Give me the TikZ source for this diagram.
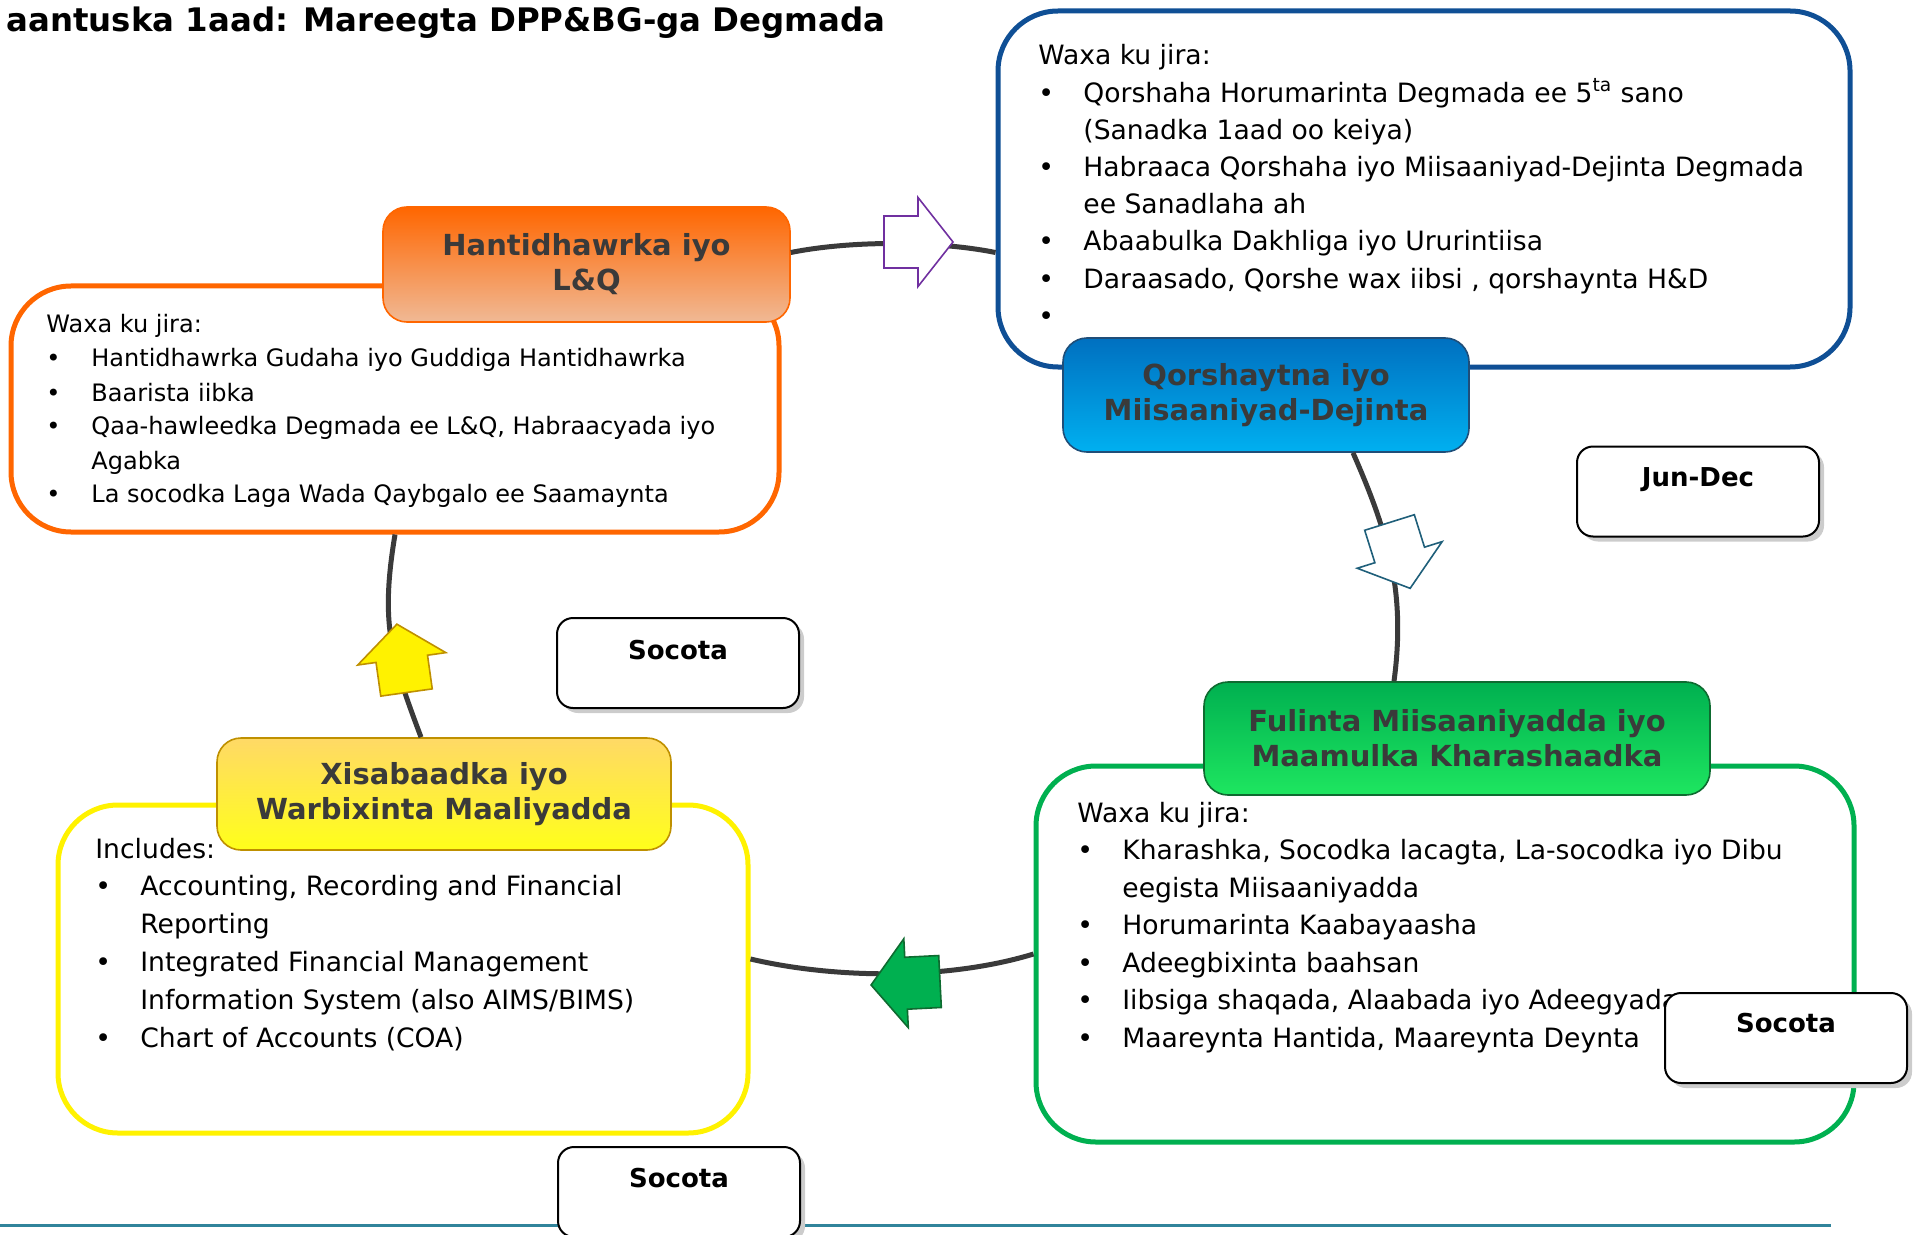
\documentclass[tikz,border=0pt]{standalone}
\usepackage{fontspec}
\setmainfont{DejaVu Sans}
\usepackage{tikz}
\usetikzlibrary{shadows}

\definecolor{lqorange}{HTML}{FF6600}
\definecolor{lqpeach}{HTML}{F0B995}
\definecolor{plblue}{HTML}{0F4F95}
\definecolor{pledge}{HTML}{1F4E79}
\definecolor{pltop}{HTML}{0070C0}
\definecolor{plbot}{HTML}{00B0F0}
\definecolor{exgreen}{HTML}{00B050}
\definecolor{exbright}{HTML}{1EE660}
\definecolor{exdark}{HTML}{0E6B30}
\definecolor{acgold}{HTML}{BF9000}
\definecolor{actop}{HTML}{FFD966}
\definecolor{acyellow}{HTML}{FFFF1A}
\definecolor{headtext}{HTML}{3A3A3A}
\definecolor{linkgray}{HTML}{3A3A3A}
\definecolor{tealline}{HTML}{31849B}
\definecolor{arrowteal}{HTML}{1F5F7A}
\definecolor{arrowpurple}{HTML}{7030A0}

\newlength{\bulletgap}\setlength{\bulletgap}{22.5pt}
\newcommand{\bitem}[1]{\makebox[\bulletgap][l]{\textbullet}#1}
\newcommand{\bcont}[1]{\hspace*{\bulletgap}#1}

\tikzset{
        listbox/.style={draw, fill=white, rounded corners=30pt, line width=2.5pt},
        headbox/.style={draw, rounded corners=12pt, line width=0.8pt, text=headtext, font=\fontsize{14.5}{17.5}\selectfont\bfseries, align=center, inner sep=0pt},
        listtext/.style={anchor=base west, inner sep=0pt},
        timebox/.style={draw=black, fill=white, line width=1pt, rounded corners=8pt, minimum width=121pt, minimum height=45pt, drop shadow={shadow xshift=2.5pt, shadow yshift=-2.5pt, fill=black!20, opacity=1}},
        timetext/.style={anchor=base, inner sep=0pt, font=\fontsize{13}{15}\selectfont\bfseries},
        link/.style={draw=linkgray, line width=2.5pt},
        blockarrow/.pic={\draw[pic actions] (0,-26) -- (34,-26) -- (34,-44.5) -- (69,0) -- (34,44.5) -- (34,26) -- (0,26) -- cycle;}
}

\begin{document}
\begin{tikzpicture}[x=0.5pt, y=-0.5pt]
        \useasboundingbox (0,0) rectangle (1914,1235);
        \draw[tealline, line width=1.5pt] (0,1225) -- (1831,1225);

        \node[listbox, draw=lqorange, minimum width=384pt, minimum height=123pt] (lqbox) at (395,409) {};
        \node[listtext, font=\fontsize{12}{17}\selectfont] (lqtext) at (46,333) {\parbox[t]{400pt}{Waxa ku jira:\\
                \bitem{Hantidhawrka Gudaha iyo Guddiga Hantidhawrka}\\
                \bitem{Baarista iibka}\\
                \bitem{Qaa-hawleedka Degmada ee L\&Q, Habraacyada iyo}\\
                \bcont{Agabka}\\
                \bitem{La socodka Laga Wada Qaybgalo ee Saamaynta}}};

        \node[listbox, draw=plblue, minimum width=426pt, minimum height=178pt] (plbox) at (1424,189) {};
        \node[listtext, font=\fontsize{13.3}{18.6}\selectfont] (pltext) at (1038,65) {\parbox[t]{420pt}{Waxa ku jira:\\
                \bitem{Qorshaha Horumarinta Degmada ee 5\textsuperscript{ta} sano}\\
                \bcont{(Sanadka 1aad oo keiya)}\\
                \bitem{Habraaca Qorshaha iyo Miisaaniyad-Dejinta Degmada}\\
                \bcont{ee Sanadlaha ah}\\
                \bitem{Abaabulka Dakhliga iyo Ururintiisa}\\
                \bitem{Daraasado, Qorshe wax iibsi , qorshaynta H\&D}\\
                \bitem{}}};

        \node[listbox, draw=exgreen, minimum width=409pt, minimum height=188pt] (exbox) at (1445,954) {};
        \node[listtext, font=\fontsize{13.3}{18.75}\selectfont] (extext) at (1077,822) {\parbox[t]{420pt}{Waxa ku jira:\\
                \bitem{Kharashka, Socodka lacagta, La-socodka iyo Dibu}\\
                \bcont{eegista Miisaaniyadda}\\
                \bitem{Horumarinta Kaabayaasha}\\
                \bitem{Adeegbixinta baahsan}\\
                \bitem{Iibsiga shaqada, Alaabada iyo Adeegyada}\\
                \bitem{Maareynta Hantida, Maareynta Deynta}}};

        \node[listbox, draw=yellow, minimum width=345pt, minimum height=164pt] (acbox) at (403,969) {};
        \node[listtext, font=\fontsize{13.3}{18.9}\selectfont] (actext) at (95,858) {\parbox[t]{400pt}{Includes:\\
                \bitem{Accounting, Recording and Financial}\\
                \bcont{Reporting}\\
                \bitem{Integrated Financial Management}\\
                \bcont{Information System (also AIMS/BIMS)}\\
                \bitem{Chart of Accounts (COA)}}};

        \node[headbox, draw=lqorange, top color=lqorange, middle color=lqorange, bottom color=lqpeach, minimum width=203.5pt, minimum height=57.5pt] (lqhead) at (586.5,264.5) {Hantidhawrka iyo\\L\&Q};
        \node[headbox, draw=pledge, top color=pltop, bottom color=plbot, minimum width=203pt, minimum height=57pt] (plhead) at (1266,395) {Qorshaytna iyo\\Miisaaniyad-Dejinta};
        \node[headbox, draw=exdark, top color=exgreen, bottom color=exbright, minimum width=253pt, minimum height=56.5pt] (exhead) at (1457,738.5) {Fulinta Miisaaniyadda iyo\\Maamulka Kharashaadka};
        \node[headbox, draw=acgold, top color=actop, bottom color=acyellow, minimum width=227pt, minimum height=56pt] (achead) at (444,794) {Xisabaadka iyo\\Warbixinta Maaliyadda};

        \node[timebox] (junbox) at (1698,491.5) {};
        \node[timetext] (juntext) at ([yshift=-20.5pt]junbox.north) {Jun-Dec};
        \node[timebox] (socA) at (678,663) {};
        \node[timetext] (socAtext) at ([yshift=-21pt]socA.north) {Socota};
        \node[timebox] (socB) at (1786,1038) {};
        \node[timetext] (socBtext) at ([yshift=-20pt]socB.north) {Socota};
        \node[timebox] (socC) at (679,1192) {};
        \node[timetext] (socCtext) at ([yshift=-20.5pt]socC.north) {Socota};

        \coordinate (lqout) at ([yshift=6pt]lqhead.east);
        \draw[link] (lqout) .. controls +(60,-12) and +(-60,-12) .. (plbox.west |- lqout);
        \draw[link] ([xshift=43.5pt]plhead.south) .. controls +(35,80) and +(12,-90) .. ([xshift=-31.5pt]exhead.north);
        \draw[link] (exbox.west) .. controls +(-85,26) and +(85,20) .. ([yshift=5pt]acbox.east);
        \draw[link] ([xshift=-11.5pt]achead.north) .. controls +(-30,-80) and +(-15,90) .. (lqbox.south);

        \pic[draw=arrowpurple, fill=white, line width=0.8pt] at (884,242) {blockarrow};
        \pic[draw=arrowteal, fill=white, line width=0.8pt, rotate=-72.6] at (1389.5,522.5) {blockarrow};
        \pic[draw=exdark, fill=exgreen, line width=0.8pt, rotate=182.9] at (940,981.5) {blockarrow};
        \pic[draw=acgold, fill=yellow, line width=0.8pt, rotate=98] at (406.5,692.5) {blockarrow};

        \node[anchor=base east, inner sep=0pt, font=\fontsize{16.2}{20}\selectfont\bfseries] (title) at (886,32) {aantuska 1aad: Mareegta DPP\&BG-ga Degmada};
\end{tikzpicture}
\end{document}
